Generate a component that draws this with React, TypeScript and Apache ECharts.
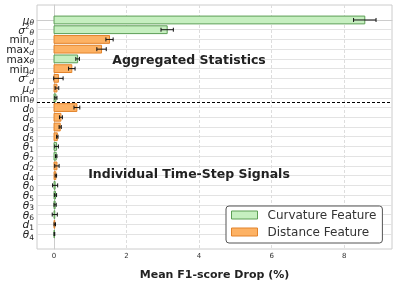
import React, { useEffect, useRef } from "react";
import * as echarts from "echarts";

const rowLabels = [
  "μ_θ", "σ²_θ", "min_d", "max_d", "max_θ", "min_d", "σ²_d", "μ_d", "min_θ",
  "d_0", "d_6", "d_3", "d_5", "θ_1", "θ_2", "d_2", "d_4", "θ_0", "θ_5", "θ_3", "θ_6", "d_1", "θ_4",
];
const featureType = [
  "c", "c", "d", "d", "c", "d", "d", "d", "c",
  "d", "d", "d", "d", "c", "c", "d", "d", "c", "c", "c", "c", "d", "c",
];
const meanDrop = [
  8.57, 3.12, 1.53, 1.31, 0.65, 0.49, 0.12, 0.08, 0.05,
  0.63, 0.19, 0.17, 0.09, 0.07, 0.06, 0.08, 0.05, 0.03, 0.04, 0.03, 0.02, 0.02, 0.01,
];
const errDrop = [
  0.31, 0.17, 0.10, 0.13, 0.05, 0.09, 0.13, 0.05, 0.03,
  0.08, 0.04, 0.03, 0.02, 0.05, 0.02, 0.06, 0.02, 0.07, 0.03, 0.03, 0.07, 0.02, 0.01,
];
const aggregatedCount = 9;
const xTicks = [0, 2, 4, 6, 8];
const seriesNames = { c: "Curvature Feature", d: "Distance Feature" };
const xTitle = "Mean F1-score Drop (%)";
const groupTitles = ["Aggregated Statistics", "Individual Time-Step Signals"];

const colors = {
  c: { fill: "#c6efc0", edge: "#5c9e55" },
  d: { fill: "#fdb264", edge: "#e2832a" },
};

function richLabel(s: string | undefined): string {
  if (!s) return "";
  const [base, sub] = s.split("_");
  let head = "";
  if (base === "min" || base === "max") head = `{rm|${base}}`;
  else if (base.includes("²")) head = `{v|${base.replace("²", "")}}{sup|2}`;
  else head = `{v|${base}}`;
  const subStyle = /^[0-9]+$/.test(sub) ? "subn" : "sub";
  return head + `{${subStyle}|${sub}}`;
}

export default function App() {
  const ref = useRef<HTMLDivElement>(null);
  useEffect(() => {
    if (!ref.current) return;
    const chart = echarts.init(ref.current, undefined, { renderer: "svg" });
    const rowIdx = rowLabels.map((_, i) => i);
    // padded label positions so that the edge (min/max) labels are blank guards
    const labelValues = [-1.5, ...rowIdx, rowLabels.length + 0.5];
    const makeSeries = (t: "c" | "d") => ({
      type: "custom",
      name: seriesNames[t],
      itemStyle: { color: colors[t].fill, borderColor: colors[t].edge, borderWidth: 1 },
      data: rowIdx.filter((i) => featureType[i] === t).map((i) => [meanDrop[i], i, errDrop[i]]),
      encode: { x: 0, y: 1 },
      z: 3,
      renderItem: (params: any, api: any) => {
        const v = api.value(0);
        const idx = api.value(1);
        const e = api.value(2);
        const p0 = api.coord([0, idx]);
        const p1 = api.coord([v, idx]);
        const h = Math.abs(api.size([0, 0.8])[1]);
        const lo = api.coord([v - e, idx]);
        const hi = api.coord([v + e, idx]);
        const cap = 2;
        return {
          type: "group",
          children: [
            {
              type: "rect",
              shape: { x: p0[0], y: p0[1] - h / 2, width: p1[0] - p0[0], height: h },
              style: { fill: colors[t].fill, stroke: colors[t].edge, lineWidth: 1 },
            },
            { type: "line", shape: { x1: lo[0], y1: lo[1], x2: hi[0], y2: hi[1] }, style: { stroke: "#111", lineWidth: 1 } },
            { type: "line", shape: { x1: lo[0], y1: lo[1] - cap, x2: lo[0], y2: lo[1] + cap }, style: { stroke: "#111", lineWidth: 1 } },
            { type: "line", shape: { x1: hi[0], y1: hi[1] - cap, x2: hi[0], y2: hi[1] + cap }, style: { stroke: "#111", lineWidth: 1 } },
          ],
        };
      },
    });
    const curv: any = makeSeries("c");
    curv.markLine = {
      silent: true,
      symbol: "none",
      label: { show: false },
      lineStyle: { color: "#000", type: [3, 2], width: 1 },
      data: [{ yAxis: aggregatedCount - 0.5 }],
    };
    const lbl = { fontFamily: "DejaVu Sans", color: "#222" };
    const option: any = {
      animation: false,
      grid: { left: 37, right: 5, top: 5, bottom: 32, show: true, borderColor: "#cccccc", borderWidth: 1 },
      xAxis: {
        type: "value",
        min: -0.47,
        max: 9.32,
        axisLine: { show: true, lineStyle: { color: "#cccccc" } },
        axisTick: { show: false, customValues: xTicks },
        axisLabel: { customValues: xTicks, fontSize: 7, color: "#333", margin: 3, fontFamily: "DejaVu Sans", showMinLabel: true, showMaxLabel: true },
        splitLine: { show: true, lineStyle: { color: "#dddddd", type: [3, 2], width: 1 } },
        name: xTitle,
        nameLocation: "middle",
        nameGap: 20,
        nameTextStyle: { fontWeight: "bold", fontSize: 11, color: "#222", fontFamily: "DejaVu Sans" },
      },
      yAxis: {
        type: "value",
        inverse: true,
        min: -1.54,
        max: 23.54,
        axisLine: { show: true, lineStyle: { color: "#cccccc" } },
        axisTick: { show: false, customValues: rowIdx },
        axisLabel: {
          customValues: labelValues,
          margin: 3,
          showMinLabel: true,
          showMaxLabel: true,
          hideOverlap: false,
          formatter: (val: number) => (Number.isInteger(val) ? richLabel(rowLabels[val]) : ""),
          rich: {
            v: { ...lbl, fontStyle: "italic", fontSize: 10.5, lineHeight: 8 },
            rm: { ...lbl, fontSize: 10.5, lineHeight: 8 },
            sub: { ...lbl, fontStyle: "italic", fontSize: 7.5, lineHeight: 2, padding: [6, 0, 0, 0] },
            subn: { ...lbl, fontSize: 7.5, lineHeight: 2, padding: [6, 0, 0, 0] },
            sup: { ...lbl, fontSize: 7, lineHeight: 2, padding: [0, 0, 6, 0] },
          },
        },
        splitLine: { show: true, lineStyle: { color: "#e3e3e3", width: 1 } },
      },
      legend: {
        orient: "vertical",
        left: 226,
        top: 206,
        padding: [3, 6, 5, 5],
        itemGap: 5,
        itemWidth: 26,
        itemHeight: 8,
        borderColor: "#555",
        borderWidth: 1,
        borderRadius: 3,
        backgroundColor: "#fff",
        textStyle: { fontSize: 12, color: "#333", fontFamily: "DejaVu Sans", padding: [0, 0, 0, 5] },
        data: [
          { name: seriesNames.c, icon: "rect", itemStyle: { color: colors.c.fill, borderColor: colors.c.edge, borderWidth: 1 } },
          { name: seriesNames.d, icon: "rect", itemStyle: { color: colors.d.fill, borderColor: colors.d.edge, borderWidth: 1 } },
        ],
      },
      graphic: [
        {
          type: "text",
          x: 189,
          y: 59,
          z: 10,
          style: { text: groupTitles[0], fontSize: 12.5, fontWeight: "bold", fill: "#222", fontFamily: "DejaVu Sans", align: "center", verticalAlign: "middle" },
        },
        {
          type: "text",
          x: 189,
          y: 173,
          z: 10,
          style: { text: groupTitles[1], fontSize: 12.5, fontWeight: "bold", fill: "#222", fontFamily: "DejaVu Sans", align: "center", verticalAlign: "middle" },
        },
      ],
      series: [curv, makeSeries("d")],
    };
    chart.setOption(option);
    return () => chart.dispose();
  }, []);
  return <div ref={ref} style={{ position: "fixed", left: 0, top: 0, width: 397, height: 285 }} />;
}
